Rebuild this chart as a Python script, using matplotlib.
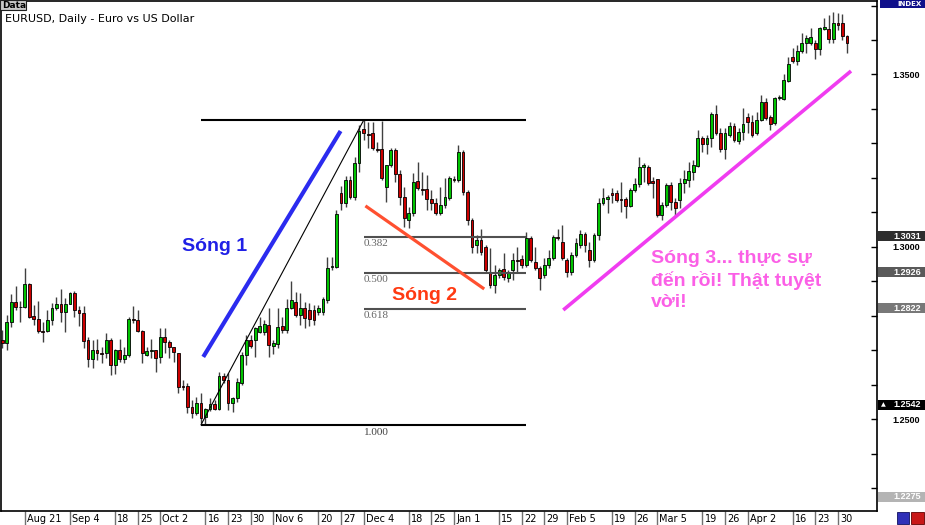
import numpy as np
import pandas as pd
import matplotlib
matplotlib.use('Agg')
import matplotlib.pyplot as plt
from matplotlib.patches import Rectangle

# EURUSD daily candles, 14 Aug 2006 .. 2 May 2007
opens = [
    1.2730, 1.2721, 1.2782, 1.2840, 1.2826, 1.2826, 1.2892, 1.2800, 1.2791, 1.2756,
    1.2756, 1.2788, 1.2823, 1.2834, 1.2811, 1.2834, 1.2866, 1.2817, 1.2808, 1.2730,
    1.2675, 1.2701, 1.2692, 1.2692, 1.2730, 1.2658, 1.2701, 1.2675, 1.2687, 1.2791,
    1.2788, 1.2756, 1.2687, 1.2698, 1.2701, 1.2681, 1.2739, 1.2724, 1.2710, 1.2692,
    1.2597, 1.2597, 1.2536, 1.2518, 1.2547, 1.2507, 1.2530, 1.2544, 1.2530, 1.2626,
    1.2614, 1.2547, 1.2562, 1.2605, 1.2687, 1.2730, 1.2730, 1.2753, 1.2753, 1.2774,
    1.2713, 1.2718, 1.2771, 1.2759, 1.2823, 1.2840, 1.2803, 1.2823, 1.2817, 1.2817,
    1.2811, 1.2811, 1.2846, 1.2942, 1.2942, 1.3156, 1.3127, 1.3194, 1.3145, 1.3243,
    1.3342, 1.3327, 1.3330, 1.3284, 1.3284, 1.3174, 1.3238, 1.3281, 1.3211, 1.3145,
    1.3078, 1.3098, 1.3191, 1.3168, 1.3168, 1.3139, 1.3127, 1.3098, 1.3122, 1.3142,
    1.3197, 1.3194, 1.3275, 1.3159, 1.3078, 1.3006, 1.3020, 1.3000, 1.2927, 1.2890,
    1.2919, 1.2936, 1.2910, 1.2933, 1.2962, 1.2965, 1.2948, 1.3026, 1.2956, 1.2939,
    1.2919, 1.2948, 1.2968, 1.3029, 1.3014, 1.2962, 1.2927, 1.2977, 1.3006, 1.3037,
    1.2991, 1.2962, 1.3035, 1.3127, 1.3139, 1.3156, 1.3156, 1.3139, 1.3139, 1.3119,
    1.3165, 1.3182, 1.3232, 1.3232, 1.3191, 1.3197, 1.3093, 1.3122, 1.3180, 1.3130,
    1.3136, 1.3185, 1.3194, 1.3217, 1.3235, 1.3316, 1.3298, 1.3316, 1.3385, 1.3330,
    1.3284, 1.3325, 1.3351, 1.3307, 1.3333, 1.3377, 1.3362, 1.3330, 1.3368, 1.3420,
    1.3377, 1.3359, 1.3432, 1.3429, 1.3481, 1.3551, 1.3539, 1.3568, 1.3591, 1.3591,
    1.3591, 1.3574, 1.3632, 1.3632, 1.3603, 1.3649, 1.3649, 1.3612]
highs = [
    1.2759, 1.2803, 1.2863, 1.2887, 1.2843, 1.2939, 1.2895, 1.2832, 1.2843, 1.2782,
    1.2817, 1.2837, 1.2855, 1.2878, 1.2852, 1.2869, 1.2872, 1.2829, 1.2829, 1.2739,
    1.2730, 1.2733, 1.2710, 1.2750, 1.2736, 1.2704, 1.2733, 1.2710, 1.2797, 1.2829,
    1.2817, 1.2759, 1.2710, 1.2733, 1.2701, 1.2765, 1.2765, 1.2730, 1.2710, 1.2692,
    1.2614, 1.2605, 1.2556, 1.2565, 1.2576, 1.2533, 1.2562, 1.2556, 1.2637, 1.2634,
    1.2634, 1.2565, 1.2620, 1.2695, 1.2745, 1.2745, 1.2768, 1.2797, 1.2788, 1.2823,
    1.2730, 1.2823, 1.2797, 1.2849, 1.2901, 1.2869, 1.2866, 1.2840, 1.2837, 1.2832,
    1.2832, 1.2855, 1.2971, 1.2971, 1.3107, 1.3177, 1.3206, 1.3206, 1.3261, 1.3354,
    1.3367, 1.3362, 1.3362, 1.3304, 1.3365, 1.3238, 1.3287, 1.3287, 1.3223, 1.3174,
    1.3116, 1.3214, 1.3246, 1.3217, 1.3209, 1.3165, 1.3142, 1.3174, 1.3200, 1.3206,
    1.3206, 1.3296, 1.3281, 1.3165, 1.3084, 1.3035, 1.3052, 1.3006, 1.2997, 1.2948,
    1.2939, 1.2982, 1.2933, 1.2982, 1.3000, 1.2977, 1.3043, 1.3032, 1.3000, 1.2945,
    1.2968, 1.2991, 1.3035, 1.3052, 1.3064, 1.2968, 1.2985, 1.3026, 1.3049, 1.3043,
    1.3014, 1.3040, 1.3142, 1.3171, 1.3151, 1.3171, 1.3165, 1.3188, 1.3145, 1.3171,
    1.3200, 1.3261, 1.3243, 1.3238, 1.3203, 1.3197, 1.3130, 1.3185, 1.3188, 1.3142,
    1.3200, 1.3223, 1.3246, 1.3252, 1.3339, 1.3322, 1.3325, 1.3391, 1.3412, 1.3345,
    1.3345, 1.3362, 1.3359, 1.3345, 1.3403, 1.3388, 1.3383, 1.3391, 1.3441, 1.3432,
    1.3383, 1.3435, 1.3441, 1.3501, 1.3551, 1.3577, 1.3586, 1.3620, 1.3615, 1.3635,
    1.3600, 1.3638, 1.3664, 1.3673, 1.3681, 1.3678, 1.3675, 1.3615]
lows = [
    1.2707, 1.2701, 1.2768, 1.2817, 1.2782, 1.2823, 1.2794, 1.2774, 1.2750, 1.2724,
    1.2753, 1.2774, 1.2817, 1.2782, 1.2753, 1.2834, 1.2797, 1.2771, 1.2707, 1.2652,
    1.2649, 1.2672, 1.2663, 1.2678, 1.2629, 1.2631, 1.2666, 1.2663, 1.2681, 1.2779,
    1.2753, 1.2663, 1.2684, 1.2678, 1.2637, 1.2663, 1.2692, 1.2678, 1.2666, 1.2576,
    1.2585, 1.2518, 1.2504, 1.2513, 1.2489, 1.2484, 1.2524, 1.2527, 1.2527, 1.2605,
    1.2527, 1.2521, 1.2550, 1.2600, 1.2658, 1.2707, 1.2681, 1.2750, 1.2745, 1.2681,
    1.2689, 1.2707, 1.2750, 1.2750, 1.2820, 1.2797, 1.2774, 1.2765, 1.2771, 1.2774,
    1.2803, 1.2803, 1.2837, 1.2933, 1.2939, 1.3107, 1.3116, 1.3139, 1.3136, 1.3217,
    1.3310, 1.3287, 1.3281, 1.3275, 1.3194, 1.3130, 1.3232, 1.3188, 1.3122, 1.3058,
    1.3055, 1.3090, 1.3165, 1.3151, 1.3107, 1.3107, 1.3093, 1.3093, 1.3113, 1.3136,
    1.3188, 1.3188, 1.3151, 1.3064, 1.2982, 1.2982, 1.2977, 1.2927, 1.2881, 1.2866,
    1.2910, 1.2904, 1.2898, 1.2904, 1.2924, 1.2939, 1.2942, 1.2956, 1.2933, 1.2875,
    1.2910, 1.2939, 1.2962, 1.3020, 1.2962, 1.2913, 1.2919, 1.2971, 1.2997, 1.2985,
    1.2942, 1.2956, 1.3020, 1.3122, 1.3098, 1.3127, 1.3130, 1.3101, 1.3084, 1.3116,
    1.3159, 1.3174, 1.3188, 1.3180, 1.3142, 1.3087, 1.3078, 1.3116, 1.3107, 1.3087,
    1.3113, 1.3156, 1.3174, 1.3194, 1.3232, 1.3275, 1.3269, 1.3290, 1.3325, 1.3275,
    1.3255, 1.3319, 1.3304, 1.3298, 1.3310, 1.3330, 1.3319, 1.3325, 1.3365, 1.3368,
    1.3339, 1.3354, 1.3426, 1.3426, 1.3478, 1.3533, 1.3528, 1.3562, 1.3562, 1.3586,
    1.3545, 1.3557, 1.3629, 1.3591, 1.3591, 1.3629, 1.3600, 1.3562]
closes = [
    1.2721, 1.2782, 1.2840, 1.2826, 1.2826, 1.2892, 1.2797, 1.2791, 1.2756, 1.2754,
    1.2788, 1.2823, 1.2834, 1.2811, 1.2834, 1.2866, 1.2817, 1.2808, 1.2727, 1.2675,
    1.2701, 1.2692, 1.2690, 1.2730, 1.2658, 1.2701, 1.2675, 1.2687, 1.2791, 1.2788,
    1.2756, 1.2692, 1.2698, 1.2701, 1.2678, 1.2739, 1.2724, 1.2710, 1.2695, 1.2594,
    1.2595, 1.2536, 1.2518, 1.2547, 1.2504, 1.2530, 1.2544, 1.2530, 1.2626, 1.2614,
    1.2547, 1.2562, 1.2608, 1.2687, 1.2730, 1.2713, 1.2765, 1.2771, 1.2776, 1.2716,
    1.2721, 1.2768, 1.2759, 1.2823, 1.2846, 1.2803, 1.2823, 1.2794, 1.2791, 1.2788,
    1.2823, 1.2849, 1.2939, 1.2945, 1.3095, 1.3127, 1.3194, 1.3145, 1.3243, 1.3336,
    1.3330, 1.3325, 1.3287, 1.3281, 1.3200, 1.3238, 1.3281, 1.3211, 1.3145, 1.3084,
    1.3098, 1.3188, 1.3171, 1.3165, 1.3139, 1.3127, 1.3098, 1.3122, 1.3145, 1.3200,
    1.3194, 1.3275, 1.3159, 1.3078, 1.3000, 1.3020, 1.2985, 1.2933, 1.2890, 1.2919,
    1.2933, 1.2913, 1.2927, 1.2962, 1.2959, 1.2948, 1.3026, 1.2962, 1.2939, 1.2910,
    1.2948, 1.2968, 1.3029, 1.3026, 1.2968, 1.2927, 1.2977, 1.3011, 1.3037, 1.3006,
    1.2962, 1.3035, 1.3127, 1.3142, 1.3145, 1.3151, 1.3136, 1.3137, 1.3119, 1.3165,
    1.3182, 1.3232, 1.3238, 1.3185, 1.3185, 1.3093, 1.3122, 1.3180, 1.3130, 1.3113,
    1.3185, 1.3197, 1.3220, 1.3238, 1.3316, 1.3298, 1.3316, 1.3385, 1.3330, 1.3284,
    1.3330, 1.3351, 1.3310, 1.3333, 1.3356, 1.3362, 1.3325, 1.3368, 1.3420, 1.3374,
    1.3356, 1.3432, 1.3435, 1.3484, 1.3530, 1.3539, 1.3568, 1.3591, 1.3606, 1.3609,
    1.3574, 1.3635, 1.3638, 1.3603, 1.3649, 1.3644, 1.3612, 1.3591]

tick_dates = ['2006-08-21', '2006-09-04', '2006-09-18', '2006-09-25', '2006-10-02',
              '2006-10-16', '2006-10-23', '2006-10-30', '2006-11-06', '2006-11-20',
              '2006-11-27', '2006-12-04', '2006-12-18', '2006-12-25', '2007-01-01',
              '2007-01-15', '2007-01-22', '2007-01-29', '2007-02-05', '2007-02-19',
              '2007-02-26', '2007-03-05', '2007-03-19', '2007-03-26', '2007-04-02',
              '2007-04-16', '2007-04-23', '2007-04-30']
tick_labels = ['Aug 21', 'Sep 4', '18', '25', 'Oct 2', '16', '23', '30', 'Nov 6', '20',
               '27', 'Dec 4', '18', '25', 'Jan 1', '15', '22', '29', 'Feb 5', '19',
               '26', 'Mar 5', '19', '26', 'Apr 2', '16', '23', '30']

# fibonacci retracement (Oct 13 low -> Dec 4 high)
fib_high, fib_low = 1.3367, 1.2484
fib_levels = [0.382, 0.500, 0.618]
fib_dates = ['2006-10-13', '2006-12-04', '2007-01-23']

# price boxes on the right scale
box_prices = [1.3031, 1.2926, 1.2822, 1.2542, 1.2275]
box_colors = ['#2e2e2e', '#5a5a5a', '#787878', '#000000', '#b4b4b4']

plt.rcParams['font.family'] = ['DejaVu Sans']
W, H = 925, 525
fig = plt.figure(figsize=(W / 100, H / 100), dpi=100)
ax = fig.add_axes([0.5 / W, 14 / H, 876.5 / W, 510 / H])
ax.set_xlim(-0.38, 193.65)
ax.set_ylim(1.22341, 1.37131)

dates = pd.bdate_range('2006-08-14', periods=len(closes))
x = np.arange(len(closes))
o, h, l, c = map(np.array, (opens, highs, lows, closes))
up = c >= o

ax.vlines(x, l, h, color='#404040', lw=1, zorder=2)
ax.bar(x[up], (c - o)[up], bottom=o[up], width=0.62, color='#00c400',
       edgecolor='black', linewidth=0.6, zorder=3)
ax.bar(x[~up], (c - o)[~up], bottom=o[~up], width=0.62, color='#cc0000',
       edgecolor='black', linewidth=0.6, zorder=3)

# fibonacci tool
i0, i1, i2 = [dates.get_loc(pd.Timestamp(d)) for d in fib_dates]
ax.hlines([fib_high, fib_low], i0, i2, color='black', lw=1.5, zorder=4)
for f in fib_levels:
    lv = fib_high - f * (fib_high - fib_low)
    ax.hlines(lv, i1, i2, color='#505050', lw=1.5, zorder=4)
    ax.annotate('%.3f' % f, (i1, lv), xytext=(0, -2), textcoords='offset points',
                ha='left', va='top', fontsize=8, color='#666666', family='Liberation Serif')
ax.annotate('1.000', (i1, fib_low), xytext=(0, -2), textcoords='offset points',
            ha='left', va='top', fontsize=8, color='#444444', family='Liberation Serif')
ax.plot([i0, i1], [fib_low, fib_high], color='black', lw=0.8, zorder=4)

# wave markers
ax.plot([44.5, 74.9], [1.2681, 1.3336], color='#2b2bef', lw=3, solid_capstyle='butt', zorder=5)
ax.plot([80.4, 106.7], [1.3119, 1.2878], color='#ff5030', lw=2.3, solid_capstyle='butt', zorder=5)
ax.plot([124.2, 187.9], [1.2817, 1.3510], color='#f03cf0', lw=2.6, solid_capstyle='butt', zorder=5)

wfont = dict(family=['Liberation Sans', 'DejaVu Sans'], fontsize=14, fontweight='bold')
ax.text(39.9, 1.2988, 'Sóng 1', color='#2020e6', va='baseline', ha='left', **wfont)
ax.text(86.3, 1.2846, 'Sóng 2', color='#ff3a12', va='baseline', ha='left', **wfont)
for txt, yy in zip(['Sóng 3... thực sự', 'đến rồi! Thật tuyệt', 'vời!'],
                   [1.2952, 1.2887, 1.2826]):
    ax.text(143.7, yy, txt, color='#fb5fe6', va='baseline', ha='left', **wfont)

# axes styling
for s in ax.spines.values():
    s.set_linewidth(1.2)
ax.yaxis.tick_right()
ax.set_yticks([1.25, 1.30, 1.35])
ax.set_yticklabels(['1.2500', '1.3000', '1.3500'], family='Liberation Sans',
                   fontweight='bold', fontsize=6.5)
ax.set_yticks(np.arange(1.23, 1.3705, 0.01), minor=True)
ax.tick_params(axis='y', which='both', direction='in', length=4, width=1,
               right=True, left=False, labelright=True, labelleft=False, pad=11)

tick_idx = [dates.get_loc(pd.Timestamp(d)) for d in tick_dates]
ax.set_xticks(tick_idx)
ax.set_xticklabels([])
ax.tick_params(axis='x', direction='out', length=11, width=1, color='#707070')
for i, lab in zip(tick_idx, tick_labels):
    ax.annotate(lab, (i, 0), xycoords=('data', 'axes fraction'), xytext=(1.5, -2),
                textcoords='offset points', ha='left', va='top', fontsize=7)

# title and top-left tag
fig.text(5 / W, 1 - 22 / H, 'EURUSD, Daily - Euro vs US Dollar', fontsize=8,
         va='baseline', ha='left')
fig.add_artist(Rectangle((0, 1 - 10 / H), 26 / W, 10 / H, transform=fig.transFigure,
                         facecolor='#c8c8c8', edgecolor='#202020', lw=0.8))
fig.text(2 / W, 1 - 5 / H, 'Data', fontsize=6.5, fontweight='bold', va='center', ha='left')

# price boxes on the right
fig.canvas.draw()
for p, col in zip(box_prices, box_colors):
    yd = ax.transData.transform((0, p))[1]
    fig.add_artist(Rectangle((878 / W, (yd - 5) / H), 47 / W, 10 / H,
                             transform=fig.transFigure, facecolor=col, edgecolor='none'))
    fig.text(921 / W, yd / H, '%.4f' % p, color='white', fontsize=6.5, fontweight='bold',
             family='Liberation Sans', ha='right', va='center')
yd = ax.transData.transform((0, 1.2542))[1]
fig.text(881 / W, yd / H, '▲', color='white', fontsize=4.5, ha='left', va='center')

fig.add_artist(Rectangle((880 / W, 1 - 8 / H), 45 / W, 8 / H, transform=fig.transFigure,
                         facecolor='#10108a', edgecolor='none'))
fig.text(922 / W, 1 - 4 / H, 'INDEX', color='white', fontsize=5, fontweight='bold',
         ha='right', va='center')

# little corner buttons
fig.add_artist(Rectangle((897 / W, 1 / H), 12 / W, 12 / H, transform=fig.transFigure,
                         facecolor='#3030b8', edgecolor='#101060', lw=0.6))
fig.add_artist(Rectangle((911 / W, 1 / H), 13 / W, 12 / H, transform=fig.transFigure,
                         facecolor='#c81818', edgecolor='#600000', lw=0.6))

plt.savefig('out.png', dpi=100)
